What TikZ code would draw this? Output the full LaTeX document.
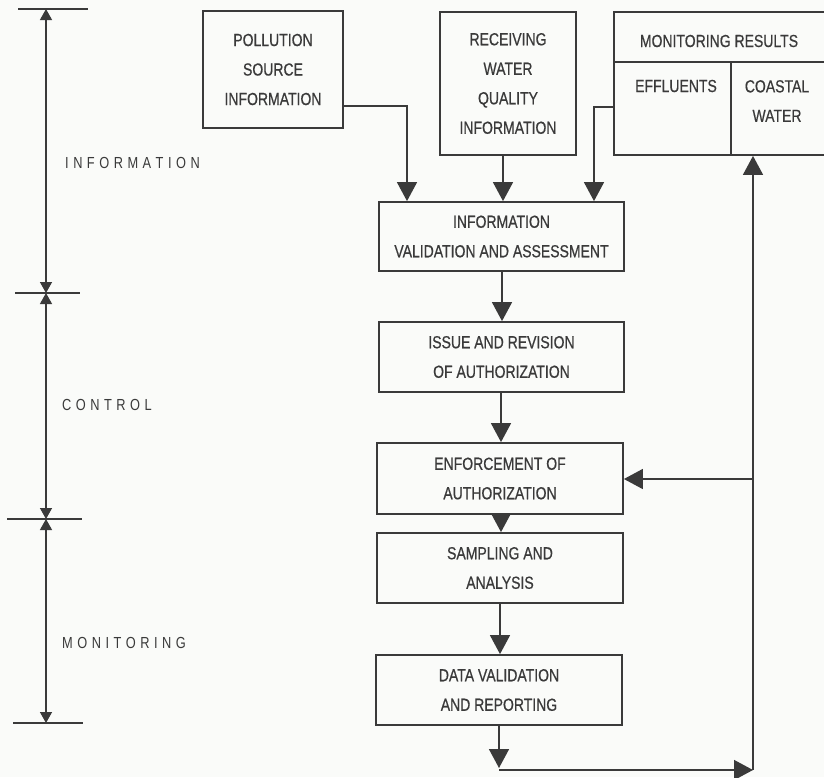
\documentclass[tikz,border=0pt]{standalone}
\usepackage{fontspec}
\setmainfont{Liberation Sans}[FakeStretch=0.8,FakeBold=0.6]
\newfontfamily\labfont{Liberation Sans}[FakeStretch=0.8]
\usetikzlibrary{arrows.meta}
\definecolor{ink}{RGB}{58,58,58}
\definecolor{paper}{RGB}{250,251,249}
\newcommand\lsp{\hspace{4.5pt}}
\begin{document}
\begin{tikzpicture}[x=1pt,y=-1pt,
  box/.style={draw=ink,line width=1.8pt,inner sep=0pt,align=center,text=ink,
    font=\fontsize{17.5}{29.5}\selectfont},
  txt/.style={inner sep=0pt,align=center,text=ink,font=\fontsize{17.5}{29.5}\selectfont},
  lab/.style={inner sep=0pt,anchor=west,text=ink,font=\labfont\fontsize{16}{18}\selectfont},
  conn/.style={draw=ink,line width=1.5pt,-{Triangle[width=20pt,length=19pt]}},
  plain/.style={draw=ink,line width=1.5pt},
  scalearr/.style={draw=ink,line width=1.3pt,-{Triangle[width=12pt,length=11pt]}},
  tick/.style={draw=ink,line width=1.3pt}]
\fill[paper] (0,0) rectangle (824,777);
\useasboundingbox (0,0) rectangle (824,777);

% left scale
\coordinate (t0) at (46,9);
\coordinate (t1) at (46,293);
\coordinate (t2) at (46,519);
\coordinate (t3) at (46,723);
\draw[tick] (18,9) -- (88,9);
\draw[tick] (15,293) -- (80,293);
\draw[tick] (7,519) -- (82,519);
\draw[tick] (13,723) -- (83,723);
\coordinate (m01) at (46,150);
\coordinate (m12) at (46,405);
\coordinate (m23) at (46,620);
\draw[scalearr] (m01) -- (t0);
\draw[scalearr] (m01) -- (t1);
\draw[scalearr] (m12) -- (t1);
\draw[scalearr] (m12) -- (t2);
\draw[scalearr] (m23) -- (t2);
\draw[scalearr] (m23) -- (t3);
\node[lab] (linfo) at (65,163) {I\lsp N\lsp F\lsp O\lsp R\lsp M\lsp A\lsp T\lsp I\lsp O\lsp N};
\node[lab] (lcont) at (62,405) {C\lsp O\lsp N\lsp T\lsp R\lsp O\lsp L};
\node[lab] (lmon) at (62,643) {M\lsp O\lsp N\lsp I\lsp T\lsp O\lsp R\lsp I\lsp N\lsp G};

% boxes
\node[box,minimum width=140pt,minimum height=117pt] (psi) at (273,69.5)
  {POLLUTION\\SOURCE\\INFORMATION};
\node[box,minimum width=136pt,minimum height=143pt] (rwq) at (508,83.5)
  {RECEIVING\\WATER\\QUALITY\\INFORMATION};
\node[box,minimum width=218pt,minimum height=143pt] (mres) at (723,83.5) {};
\draw[plain,line width=1.8pt] (614,62) -- (832,62);
\draw[plain,line width=1.8pt] (731,62) -- (731,155);
\node[txt] (mrh) at (719,41) {MONITORING RESULTS};
\node[txt] (eff) at (676,86) {EFFLUENTS};
\node[txt] (cw) at (777,101) {COASTAL\\WATER};

\node[box,minimum width=245pt,minimum height=69pt] (iva) at (501.5,236.5)
  {INFORMATION\\VALIDATION AND ASSESSMENT};
\node[box,minimum width=245pt,minimum height=70pt] (ira) at (501.5,357)
  {ISSUE AND REVISION\\OF AUTHORIZATION};
\node[box,minimum width=246pt,minimum height=71pt] (eoa) at (500,478.5)
  {ENFORCEMENT OF\\AUTHORIZATION};
\node[box,minimum width=246pt,minimum height=70pt] (saa) at (500,568)
  {SAMPLING AND\\ANALYSIS};
\node[box,minimum width=246pt,minimum height=70pt] (dvr) at (499,690)
  {DATA VALIDATION\\AND REPORTING};

% connectors into iva
\draw[conn] (psi.east |- 0,106) -| (iva.north -| 407,0);
\draw[conn] (rwq.south -| 503,0) -- (iva.north -| 503,0);
\draw[conn] (mres.west |- 0,107) -| (iva.north -| 594,0);

% chain
\draw[conn] (iva.south -| 502,0) -- (ira.north -| 502,0);
\draw[conn] (ira.south -| 501,0) -- (eoa.north -| 501,0);
\draw[conn] (eoa.south -| 501,0) -- (saa.north -| 501,0);
\draw[conn] (saa.south -| 500,0) -- (dvr.north -| 500,0);

% feedback loop
\coordinate (c1) at (499,768);
\coordinate (c0) at (499,770);
\coordinate (c2) at (753,770);
\coordinate (c3) at (753,479);
\draw[conn] (dvr.south -| 499,0) -- (c1);
\draw[conn] (c0) -- (c2);
\draw[conn] (c2) -- (mres.south -| 753,0);
\draw[conn] (c3) -- (eoa.east |- c3);
\end{tikzpicture}
\end{document}
